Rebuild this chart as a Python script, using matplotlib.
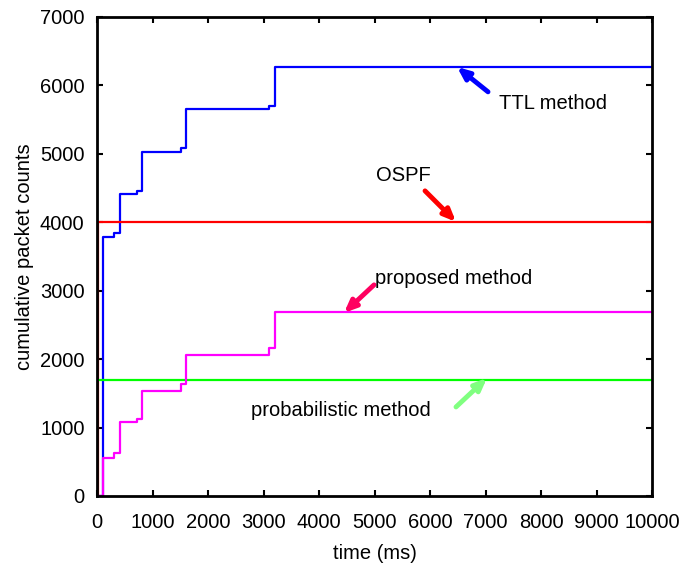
import matplotlib
matplotlib.use("Agg")
import matplotlib.pyplot as plt

plt.rcParams['font.family'] = ['Liberation Sans', 'DejaVu Sans']

# TTL method (blue) step data
ttl_t = [0, 103, 103, 306, 306, 414, 414, 715, 715, 805, 805, 1508, 1508, 1604, 1604, 3105, 3105, 3207, 3207, 10000]
ttl_v = [0, 0, 3786, 3786, 3840, 3840, 4415, 4415, 4463, 4463, 5024, 5024, 5083, 5083, 5658, 5658, 5702, 5702, 6265, 6265]

# OSPF (red)
ospf_t = [0, 20, 20, 10000]
ospf_v = [0, 0, 4000, 4000]

# probabilistic method (green)
prob_t = [0, 5, 5, 10000]
prob_v = [0, 0, 1700, 1700]

# proposed method (magenta)
prop_t = [0, 103, 103, 306, 306, 414, 414, 715, 715, 805, 805, 1508, 1508, 1604, 1604, 3105, 3105, 3207, 3207, 10000]
prop_v = [0, 0, 551, 551, 633, 633, 1077, 1077, 1121, 1121, 1535, 1535, 1637, 1637, 2061, 2061, 2168, 2168, 2686, 2686]

x_ticks = [0, 1000, 2000, 3000, 4000, 5000, 6000, 7000, 8000, 9000, 10000]
y_ticks = [0, 1000, 2000, 3000, 4000, 5000, 6000, 7000]

fs = 14.5

fig = plt.figure(figsize=(6.87, 5.72), dpi=100)
ax = fig.add_axes([0.1412, 0.1329, 0.9491 - 0.1412, 0.9703 - 0.1329])

lw = 1.6
ax.plot(ttl_t, ttl_v, color='#0000ff', lw=lw)
ax.plot(ospf_t, ospf_v, color='#ff0000', lw=lw)
ax.plot(prob_t, prob_v, color='#00ff00', lw=lw)
ax.plot(prop_t, prop_v, color='#ff00ff', lw=lw)

ax.set_xlim(0, 10000)
ax.set_ylim(0, 7000)
ax.set_xticks(x_ticks)
ax.set_xticklabels([str(v) for v in x_ticks])
ax.set_yticks(y_ticks)
ax.set_yticklabels([str(v) for v in y_ticks])
ax.tick_params(direction='in', length=4, width=1.5, top=True, right=True,
               labelsize=fs)
ax.tick_params(axis='x', pad=12)
ax.tick_params(axis='y', pad=9)
for s in ax.spines.values():
    s.set_linewidth(2)

ax.set_xlabel('time (ms)', fontsize=fs, labelpad=9)
ax.set_ylabel('cumulative packet counts', fontsize=fs, labelpad=4)

def arrow(text, xy, xytext, color, tx, ty, ha='left'):
    ax.annotate('', xy=xy, xytext=xytext,
                arrowprops=dict(arrowstyle='-|>,head_length=0.7,head_width=0.3',
                                color=color, lw=3.5, shrinkA=0, shrinkB=0))
    ax.text(tx, ty, text, fontsize=fs, ha=ha, va='center')

arrow('TTL method', (6486, 6270), (7045, 5906), '#0000ff', 7250, 5740)
arrow('OSPF', (6468, 4006), (5910, 4459), '#ff0000', 5020, 4690)
arrow('proposed method', (4450, 2675), (4991, 3085), '#ff0060', 5010, 3180)
arrow('probabilistic method', (7027, 1725), (6468, 1301), '#80ff80', 2775, 1242)

fig.savefig('out.png', dpi=100)
